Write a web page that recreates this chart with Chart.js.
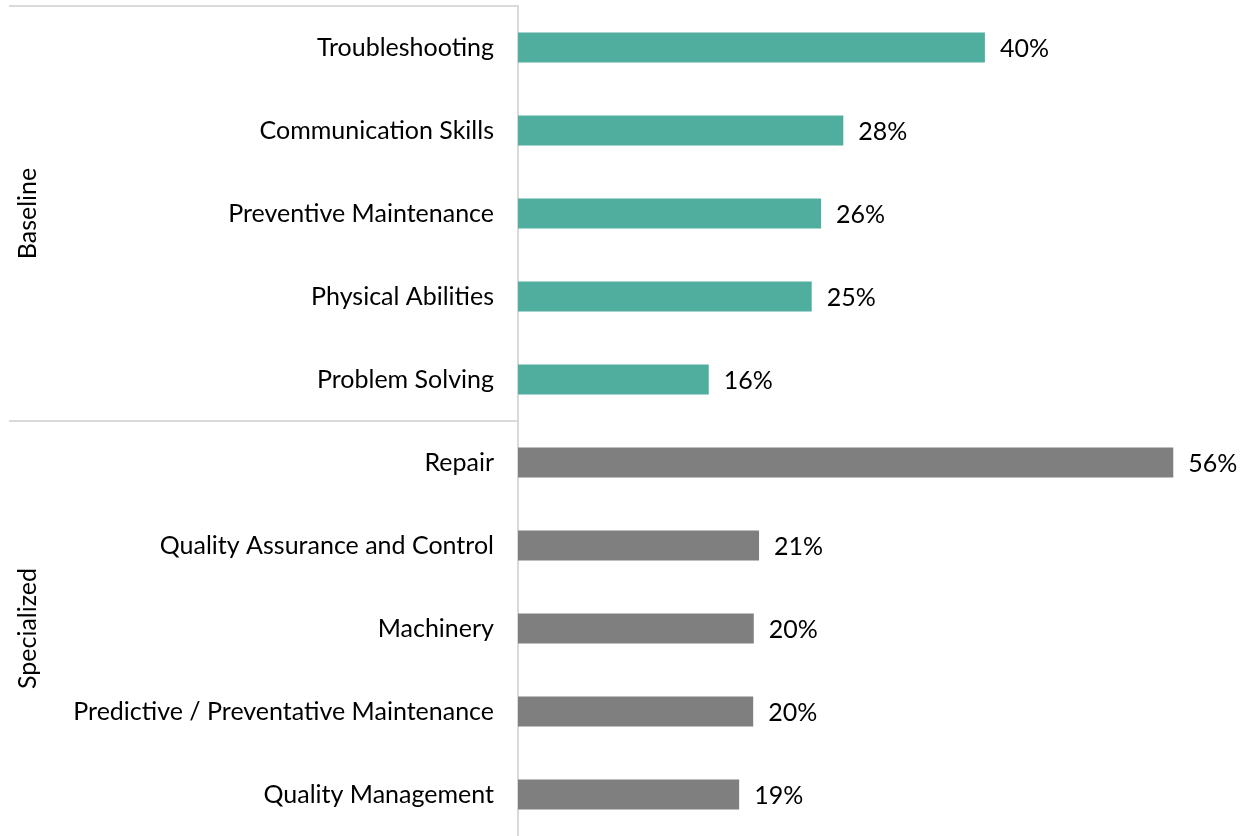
<!DOCTYPE html>
<html>
<head>
<meta charset="utf-8">
<script src="https://cdn.jsdelivr.net/npm/chart.js@4/dist/chart.umd.min.js"></script>
<style>
html,body{margin:0;padding:0;background:#fff;}
#wrap{width:1247px;height:836px;position:relative;}
</style>
</head>
<body>
<div id="wrap"><canvas id="c"></canvas></div>
<script>
const categories = [
  "Troubleshooting",
  "Communication Skills",
  "Preventive Maintenance",
  "Physical Abilities",
  "Problem Solving",
  "Repair",
  "Quality Assurance and Control",
  "Machinery",
  "Predictive / Preventative Maintenance",
  "Quality Management"
];
const values = [39.9, 27.8, 25.9, 25.1, 16.3, 56.0, 20.6, 20.15, 20.1, 18.9];
const groups = ["Baseline", "Specialized"];
const groupSizes = [5, 5];
const groupColors = ["#4FAE9D", "#7F7F7F"];

const barColors = [];
groupSizes.forEach((n, g) => { for (let i = 0; i < n; i++) barColors.push(groupColors[g]); });

const FONT = "Lato, 'Open Sans', sans-serif";
const FSIZE = 25;

const overlay = {
  id: 'overlay',
  afterDraw(chart) {
    const ctx = chart.ctx;
    const y = chart.scales.y;
    const area = chart.chartArea;
    ctx.save();
    ctx.strokeStyle = '#D9D9D9';
    ctx.lineWidth = 2;
    let start = 0;
    const bounds = [0];
    groupSizes.forEach(n => { start += n; bounds.push(start); });
    bounds.slice(0, -1).forEach(b => {
      const py = Math.round(y.getPixelForValue(b - 0.5));
      ctx.beginPath();
      ctx.moveTo(9, py);
      ctx.lineTo(area.left, py);
      ctx.stroke();
    });
    ctx.fillStyle = '#000';
    ctx.font = FSIZE + 'px ' + FONT;
    ctx.textAlign = 'center';
    ctx.textBaseline = 'middle';
    for (let g = 0; g < groups.length; g++) {
      const top = y.getPixelForValue(bounds[g] - 0.5);
      const bot = y.getPixelForValue(bounds[g + 1] - 0.5);
      ctx.save();
      ctx.translate(28, (top + bot) / 2);
      ctx.rotate(-Math.PI / 2);
      ctx.fillText(groups[g], 0, 0);
      ctx.restore();
    }
    const meta = chart.getDatasetMeta(0);
    ctx.textAlign = 'left';
    meta.data.forEach((bar, i) => {
      ctx.fillText(Math.round(values[i]) + '%', bar.x + 15, bar.y + 1);
    });
    ctx.restore();
  }
};

new Chart(document.getElementById('c'), {
  type: 'bar',
  data: {
    labels: categories,
    datasets: [{
      data: values,
      backgroundColor: barColors,
      borderWidth: 0,
      barPercentage: 0.36,
      categoryPercentage: 1.0
    }]
  },
  options: {
    indexAxis: 'y',
    responsive: true,
    maintainAspectRatio: false,
    animation: false,
    layout: { padding: { top: 6, bottom: 0, right: 0, left: 0 } },
    plugins: { legend: { display: false }, tooltip: { enabled: false } },
    scales: {
      x: { display: false, min: 0, max: 62.3 },
      y: {
        grid: { display: false, drawTicks: false },
        border: { display: true, color: '#D9D9D9', width: 2 },
        ticks: { color: '#000', font: { family: FONT, size: FSIZE }, padding: 24 },
        afterFit(scale) { scale.width = 518; scale.paddingTop = 0; scale.paddingBottom = 0; }
      }
    }
  },
  plugins: [overlay]
});
</script>
</body>
</html>
